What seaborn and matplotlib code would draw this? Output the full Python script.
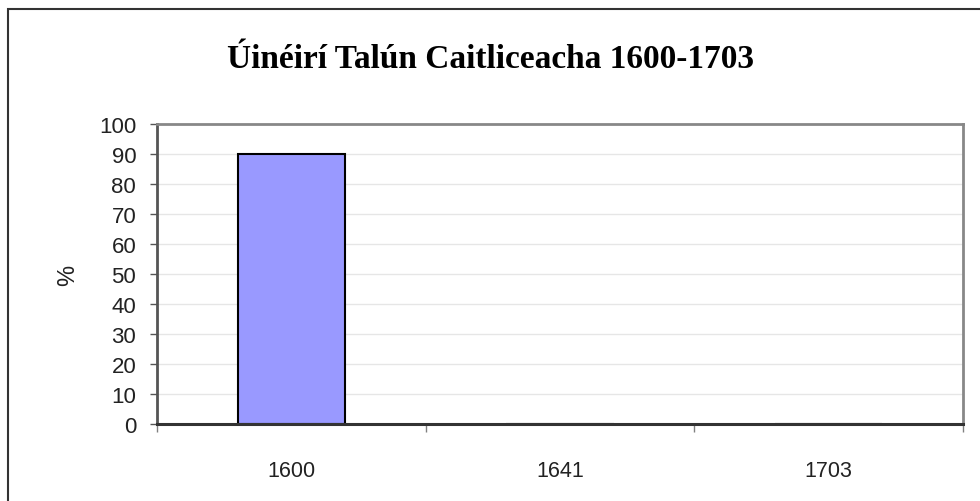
import matplotlib
matplotlib.use("Agg")
import matplotlib.pyplot as plt
import seaborn as sns
import pandas as pd
from matplotlib.patches import Rectangle
from matplotlib.ticker import FixedLocator

years = ["1600", "1641", "1703"]
percent = [90, 0, 0]
y_ticks = [0, 10, 20, 30, 40, 50, 60, 70, 80, 90, 100]
title = "Úinéirí Talún Caitliceacha 1600-1703"
y_label = "%"

sns.set_theme(style="white")
plt.rcParams["font.family"] = ["Liberation Sans", "DejaVu Sans"]

df = pd.DataFrame({"year": years, "percent": percent})

fig = plt.figure(figsize=(9.8, 5.02), dpi=100)
ax = fig.add_axes([157/980, 77/502, (963-157)/980, 300/502])

sns.barplot(data=df, x="year", y="percent", order=years, color="#9999FF",
            saturation=1, edgecolor="black", linewidth=1.5, width=0.4, ax=ax)

ax.set_ylim(0, 100)
ax.set_xlim(-0.5, 2.5)
ax.set_yticks(y_ticks)
ax.yaxis.grid(True, color="#e6e6e6", linewidth=1)
ax.set_axisbelow(True)

# category boundaries as tick marks, labels at centers
ax.xaxis.set_major_locator(FixedLocator([-0.5, 0.5, 1.5, 2.5]))
ax.set_xticklabels([])
ax.xaxis.set_minor_locator(FixedLocator(range(len(years))))
ax.set_xticklabels(years, minor=True)
ax.tick_params(axis="x", which="major", direction="out", length=6, width=1, color="#808080", bottom=True)
ax.tick_params(axis="x", which="minor", length=0, pad=26, labelsize=15.5, labelcolor="#222222")
ax.tick_params(axis="y", direction="out", length=5, width=1, color="#555555", left=True, pad=10,
               labelsize=16, labelcolor="#222222")

ax.set_xlabel("")
ax.set_ylabel(y_label, fontsize=17, color="#222222", labelpad=14)

for side in ["top", "right"]:
    ax.spines[side].set_visible(True)
    ax.spines[side].set_color("#888888")
    ax.spines[side].set_linewidth(2)
ax.spines["left"].set_color("#555555")
ax.spines["left"].set_linewidth(2)
ax.spines["bottom"].set_color("#333333")
ax.spines["bottom"].set_linewidth(2.2)

fig.text(490/980, 1 - 60/502, title, ha="center", va="center",
         fontsize=24, fontweight="bold", family=["Liberation Serif", "DejaVu Serif"], color="black")

fig.patches.append(Rectangle((8/980, -0.05), 1.2, 1 - 10/502 + 0.05, transform=fig.transFigure,
                             fill=False, edgecolor="#333333", linewidth=1.5, figure=fig))

fig.savefig("out.png", dpi=100)
